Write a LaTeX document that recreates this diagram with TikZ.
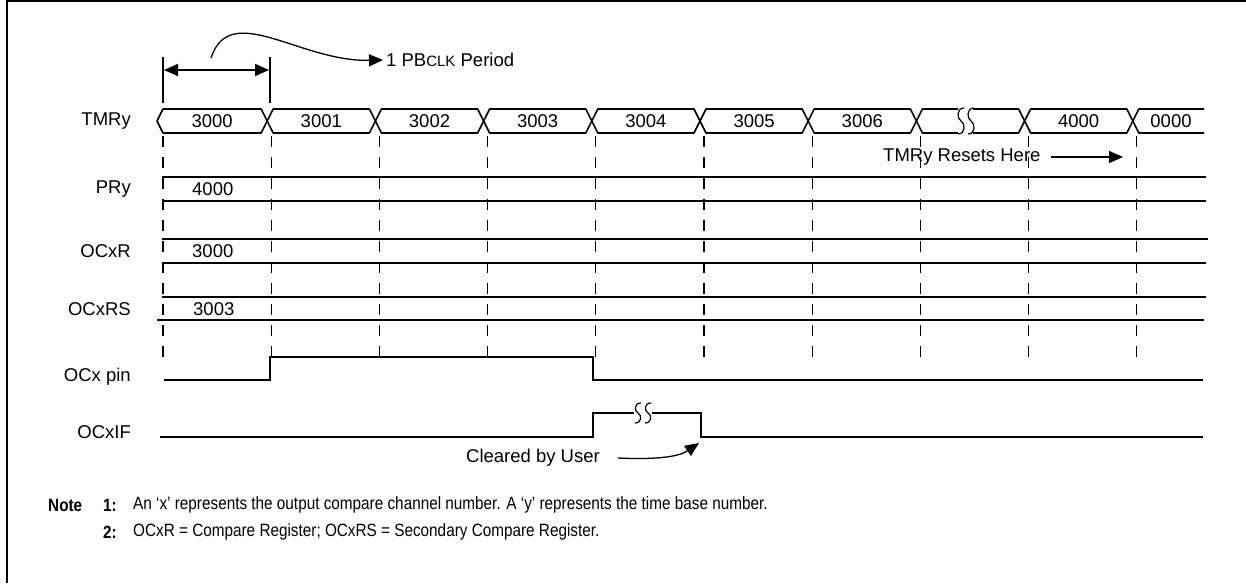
\documentclass[tikz,border=0pt]{standalone}
\usepackage{fontspec}
\setmainfont{Liberation Sans}
\newfontfamily\narrowfam{Liberation Sans}[FakeStretch=0.86]
\usetikzlibrary{arrows.meta}
\newcommand{\figfont}{\fontsize{18.5}{22}\selectfont}
\newcommand{\notefont}{\narrowfam\fontsize{17.8}{21}\selectfont}
\begin{document}
\begin{tikzpicture}[x=1pt,y=-1pt,
  sig/.style={line width=2.4pt},
  busline/.style={line width=1.6pt, line join=round},
  gridline/.style={line width=1.2pt, dash pattern=on 11pt off 10pt},
  lbl/.style={anchor=east, inner sep=0pt, font=\figfont},
  val/.style={inner sep=0pt, font=\figfont},
  notetxt/.style={anchor=west, inner sep=0pt, font=\notefont},
  arr/.style={-{Triangle[length=14pt,width=12pt]}, line width=1.3pt},
  squig/.style={line width=1.2pt},
]
\useasboundingbox (0,0) rectangle (1246,583);
% frame
\draw[line width=2pt] (7,583) -- (7,1) -- (1246,1);

% PBCLK period marker
\draw[line width=1.8pt] (163,57) -- (163,103);
\draw[line width=1.8pt] (270,57) -- (270,103);
\coordinate (pa) at (164,70);
\coordinate (pb) at (269,70);
\draw[{Triangle[length=14pt,width=12pt]}-{Triangle[length=14pt,width=12pt]}, line width=1.5pt] (pa) -- (pb);
\coordinate (cs) at (211,58);
\node[val, anchor=west] (pbclk) at (386,60) {1 PB{\fontsize{15}{18}\selectfont CLK} Period};
\draw[arr] (cs) .. controls (230,0) and (300,62) .. ([xshift=-3pt]pbclk.west);

% row labels
\node[lbl] (lTMR) at (131,121) {TMRy};
\node[lbl] (lPR) at (131,189) {PRy};
\node[lbl] (lOCR) at (131,251) {OCxR};
\node[lbl] (lOCRS) at (131,309) {OCxRS};
\node[lbl] (lpin) at (131,377) {OCx pin};
\node[lbl] (lIF) at (131,432) {OCxIF};

% dashed grid
\foreach \k in {0,...,9}{
  \draw[gridline] ({163+108.2*\k},136) -- ({163+108.2*\k},357);
}

% TMRy bus
\def\bt{109}\def\bb{133}\def\bm{121}
\foreach \a/\b/\t in {157/267.2/3000, 267.2/375.4/3001, 375.4/483.6/3002, 483.6/591.8/3003, 591.8/700/3004, 700/808.2/3005, 808.2/916.4/3006, 1024.6/1132.8/4000}{
  \draw[busline] (\a,\bm) -- ({\a+6},\bt) -- ({\b-6},\bt) -- (\b,\bm) -- ({\b-6},\bb) -- ({\a+6},\bb) -- cycle;
  \node[val] at ({(\a+\b)/2},\bm) {\t};
}
% segment with break
\draw[busline] (958,\bt) -- (922.4,\bt) -- (916.4,\bm) -- (922.4,\bb) -- (958,\bb);
\draw[busline] (973,\bt) -- (1018.6,\bt) -- (1024.6,\bm) -- (1018.6,\bb) -- (973,\bb);
\draw[squig] (964,108) .. controls (956,108) and (957,119) .. (961,121) .. controls (965,123) and (966,134) .. (958,134);
\draw[squig] (974,108) .. controls (966,108) and (967,119) .. (971,121) .. controls (975,123) and (976,134) .. (968,134);
% last segment
\draw[busline] (1204,\bt) -- (1138.8,\bt) -- (1132.8,\bm) -- (1138.8,\bb) -- (1204,\bb);
\node[val] at (1171,\bm) {0000};

% TMRy resets here
\node[val, anchor=west] (rst) at (883,157) {TMRy Resets Here};
\coordinate (rstend) at (1123,157);
\draw[arr] ([xshift=10pt]rst.east) -- (rstend);

% register rows
\draw[sig] (162,177) -- (1206,177);
\draw[sig] (162,201) -- (1206,201);
\draw[sig] (162,239) -- (1208,239);
\draw[sig] (162,263) -- (1206,263);
\draw[sig] (162,297) -- (1206,297);
\draw[sig] (157,320) -- (1204,320);
\node[val, anchor=west] (vPR) at (192,189) {4000};
\node[val, anchor=west] (vOCR) at (192,251) {3000};
\node[val, anchor=west] (vOCRS) at (193,309) {3003};

% OCx pin
\draw[sig] (164,380) -- (270,380) -- (270,357) -- (593,357) -- (593,380) -- (1203,380);

% OCxIF
\draw[sig] (160,437) -- (593,437) -- (593,413) -- (634,413);
\draw[sig] (652,413) -- (701,413) -- (701,437) -- (1203,437);
\draw[squig] (641,403) .. controls (634,403) and (634,411) .. (638,413) .. controls (642,415) and (642,423) .. (635,423);
\draw[squig] (651,403) .. controls (644,403) and (644,411) .. (648,413) .. controls (652,415) and (652,423) .. (645,423);

% cleared by user
\node[val, anchor=east] (clr) at (600,458) {Cleared by User};
\coordinate (clrend) at (699,443);
\draw[arr] ([xshift=18pt]clr.east) .. controls (660,460) and (680,456) .. (clrend);

% notes
\node[notetxt, font=\notefont\bfseries] (note) at (48,505) {Note};
\node[notetxt, font=\notefont\bfseries, anchor=east] (n1) at (117,505) {1:};
\node[notetxt] (t1) at (133,505) {An ‘x’ represents the output compare channel number. A ‘y’ represents the time base number.};
\node[notetxt, font=\notefont\bfseries, anchor=east] (n2) at (117,532) {2:};
\node[notetxt] (t2) at (133,532) {OCxR = Compare Register; OCxRS = Secondary Compare Register.};
\end{tikzpicture}
\end{document}
